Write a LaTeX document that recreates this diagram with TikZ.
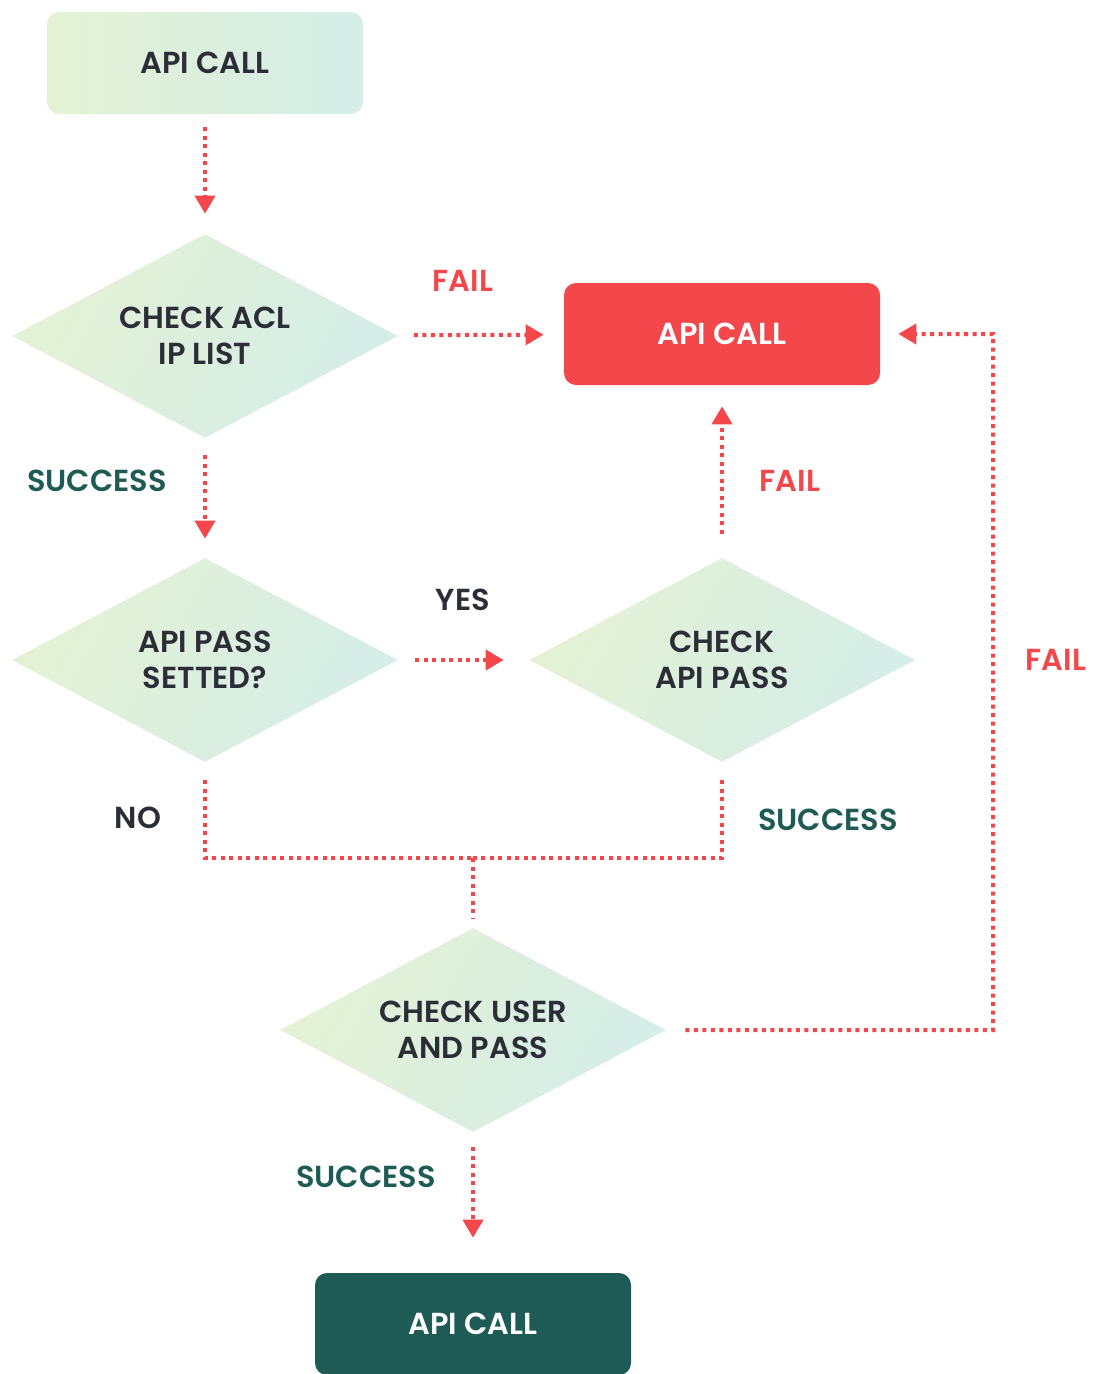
\documentclass[tikz,border=0pt]{standalone}
\usepackage{fontspec}
\setmainfont{Poppins}[UprightFont={* SemiBold}, BoldFont={* Bold}]
\usepackage{xcolor}
\usetikzlibrary{shapes.geometric, arrows.meta, positioning}

\definecolor{failred}{RGB}{243,71,75}
\definecolor{okgreen}{RGB}{30,91,84}
\definecolor{inkdark}{RGB}{43,46,54}
\definecolor{gradgreen}{RGB}{228,241,212}
\definecolor{gradteal}{RGB}{213,238,233}

\begin{document}
\begin{tikzpicture}[
    on grid,
    font=\fontsize{17.3}{20.5}\selectfont,
    box/.style={rectangle, rounded corners=0.24cm, minimum width=6.32cm, minimum height=2.04cm, align=center, text=inkdark},
    check/.style={diamond, aspect=1.9, inner sep=0pt, minimum width=7.72cm, minimum height=4.08cm, align=center, text=inkdark,
        left color=gradgreen, right color=gradteal, shading angle=60},
    flow/.style={failred, line width=0.08cm, dash pattern=on 0.08cm off 0.09cm},
    arrow/.style={flow, -{Triangle[width=0.4cm, length=0.36cm]}},
    lbl/.style={inner sep=0pt}
]
    \useasboundingbox (0,0) rectangle (21.94,-27.48);

    % Nodes
    \node[box, left color=gradgreen, right color=gradteal] (start) at (4.10,-1.26) {API CALL};
    \node[check, below=5.46cm of start] (acl) {CHECK ACL\\IP LIST};
    \node[check, below=6.48cm of acl] (passset) {API PASS\\SETTED?};
    \node[check, right=10.34cm of passset] (apipass) {CHECK\\API PASS};
    \node[box, fill=failred, text=white, above=6.52cm of apipass] (denied) {API CALL};
    \node[check] (userpass) at (9.46,-20.60) {CHECK USER\\AND PASS};
    \node[box, fill=okgreen, text=white, below=5.88cm of userpass] (granted) {API CALL};
    \coordinate (join) at (9.46,-17.16);

    % Labels
    \node[lbl, text=failred] (failacl) at (9.26,-5.62) {FAIL};
    \node[lbl, text=okgreen] (okacl) at (1.94,-9.62) {SUCCESS};
    \node[lbl, text=inkdark] (yes) at (9.26,-12.00) {YES};
    \node[lbl, text=failred] (failpass) at (15.80,-9.62) {FAIL};
    \node[lbl, text=failred] (failuser) at (21.12,-13.20) {FAIL};
    \node[lbl, text=inkdark] (no) at (2.76,-16.36) {NO};
    \node[lbl, text=okgreen] (okpass) at (16.56,-16.40) {SUCCESS};
    \node[lbl, text=okgreen] (okuser) at (7.32,-23.54) {SUCCESS};

    % Arrows
    \draw[arrow, shorten <=0.26cm, shorten >=0.40cm] (start) -- (acl);
    \draw[arrow, shorten <=0.34cm, shorten >=0.40cm] (acl) -- (denied);
    \draw[arrow, shorten <=0.34cm, shorten >=0.38cm] (acl) -- (passset);
    \draw[arrow, shorten <=0.34cm, shorten >=0.50cm] (passset) -- (apipass);
    \draw[arrow, shorten <=0.48cm, shorten >=0.42cm] (apipass) -- (denied);
    \draw[flow, shorten <=0.36cm] (passset.south) |- (join);
    \draw[flow, shorten <=0.36cm] (apipass.south) |- (join);
    \draw[flow, shorten >=0.20cm] (join) -- (userpass.north);
    \draw[arrow, shorten <=0.38cm, shorten >=0.36cm] (userpass.east) -| (19.86,-6.68) -- (denied.east);
    \draw[arrow, shorten <=0.30cm, shorten >=0.70cm] (userpass) -- (granted);
\end{tikzpicture}
\end{document}
